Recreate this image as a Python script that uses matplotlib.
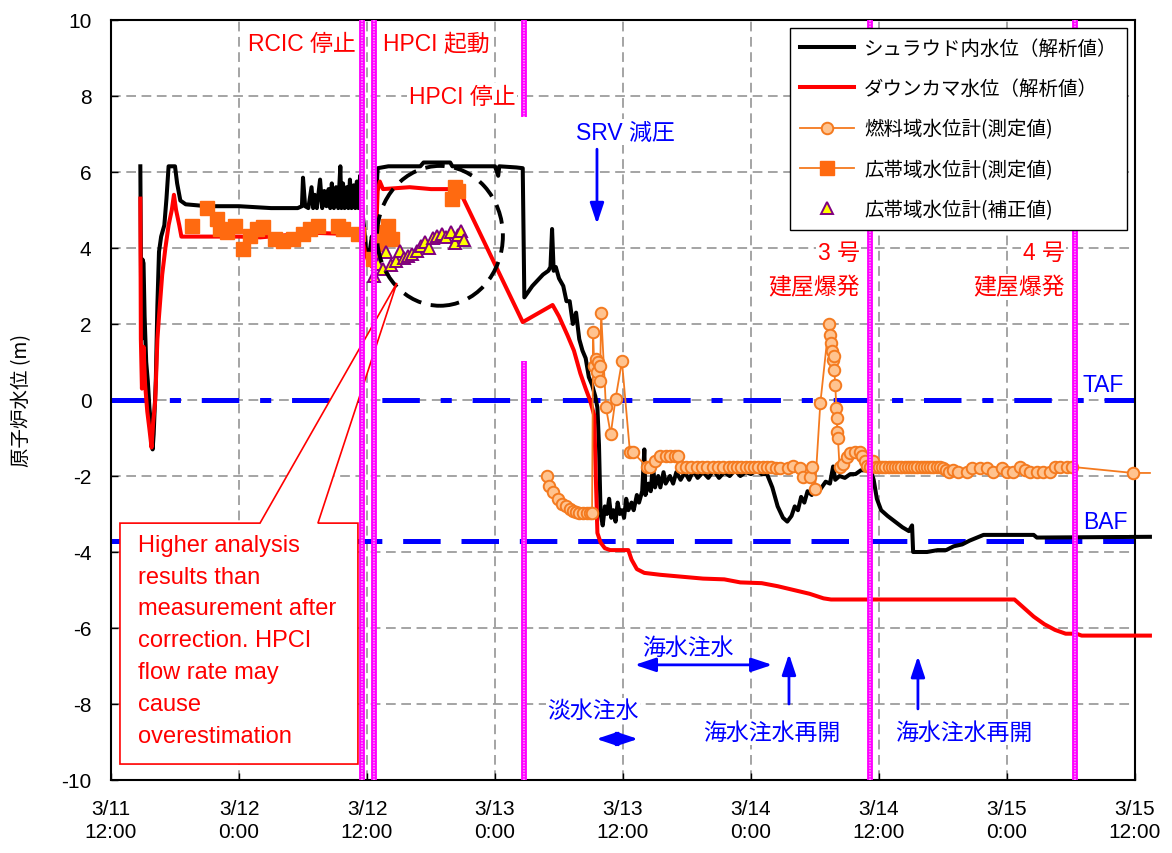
import matplotlib
matplotlib.use('Agg')
import matplotlib.pyplot as plt
from matplotlib.lines import Line2D
from matplotlib.patches import Ellipse, Polygon

plt.rcParams['font.family'] = ['Liberation Sans', 'Noto Sans CJK JP']
plt.rcParams['axes.unicode_minus'] = False
plt.rcParams['lines.scale_dashes'] = False

# time axis: hours since 3/11 12:00
tick_h = [0, 12, 24, 36, 48, 60, 72, 84, 96]
tick_labels = ['3/11\n12:00', '3/12\n0:00', '3/12\n12:00', '3/13\n0:00', '3/13\n12:00',
               '3/14\n0:00', '3/14\n12:00', '3/15\n0:00', '3/15\n12:00']

# shroud water level (analysis)
shroud = [(2.75, 6.15), (2.8, 4.0), (2.85, 1.6), (2.95, 3.7), (3.05, 3.6), (3.15, 2.2),
          (3.3, 1.0), (3.45, 0.5), (3.6, -0.2), (3.8, -0.8), (3.9, -1.3), (4.0, -0.9),
          (4.2, 0.5), (4.35, 2.5), (4.5, 3.9), (4.7, 4.3), (5.0, 4.6), (5.2, 5.3), (5.4, 6.15),
          (6.0, 6.15), (6.2, 5.7), (6.5, 5.25), (7.0, 5.15), (9.0, 5.1), (12.0, 5.1),
          (15.0, 5.05), (17.5, 5.05), (17.9, 5.1), (18.0, 5.85), (18.2, 5.1), (18.5, 5.05),
          (18.8, 5.6), (18.95, 5.05), (19.1, 5.4), (19.3, 5.05), (19.6, 5.8), (19.8, 5.05),
          (20.0, 5.5), (20.2, 5.1), (20.4, 5.55), (20.55, 5.05), (20.7, 5.7), (20.9, 5.05),
          (21.1, 5.6), (21.3, 5.05), (21.5, 6.15), (21.6, 5.05), (21.75, 5.7), (21.9, 5.05),
          (22.1, 5.6), (22.25, 5.05), (22.4, 5.8), (22.55, 5.05), (22.75, 5.65), (22.9, 5.05),
          (23.05, 5.75), (23.2, 5.05), (23.35, 5.9), (23.5, 5.15), (23.7, 4.6), (23.9, 4.0),
          (24.2, 3.8), (24.45, 4.3), (24.6, 3.9), (24.8, 5.0), (25.0, 6.1), (26.0, 6.15),
          (29.0, 6.15), (29.3, 6.25), (31.8, 6.25), (32.0, 6.15), (36.0, 6.15), (36.3, 5.9),
          (36.4, 6.15), (38.0, 6.12), (38.6, 6.1), (38.75, 2.7), (39.5, 3.0), (40.5, 3.3),
          (41.0, 3.4), (41.2, 3.5), (41.35, 4.5), (41.5, 3.4), (41.7, 3.5), (42.0, 3.2),
          (42.4, 3.0), (42.7, 2.6), (43.0, 2.6), (43.3, 2.0), (43.6, 2.3), (43.9, 1.6),
          (44.2, 1.3), (44.5, 1.1), (44.8, 0.6), (45.1, 0.4), (45.4, 0.1), (45.6, -0.2),
          (45.75, -1.2), (45.9, -3.0), (46.1, -3.3), (46.3, -2.8), (46.5, -3.0), (46.7, -2.6),
          (46.9, -3.1), (47.1, -2.9), (47.3, -3.2), (47.5, -2.7), (47.7, -3.0), (47.9, -2.9),
          (48.1, -3.1), (48.3, -2.6), (48.5, -2.9), (48.8, -2.7), (49.0, -2.9), (49.3, -2.5),
          (49.5, -2.7), (49.8, -2.4), (50.0, -1.3), (50.1, -2.5), (50.4, -2.2), (50.6, -2.4),
          (50.8, -1.7), (51.0, -2.3), (51.3, -2.0), (51.5, -2.3), (51.8, -1.9), (52.0, -2.2),
          (52.4, -2.0), (52.7, -2.2), (53.0, -1.9), (53.4, -2.1), (53.8, -1.9), (54.2, -2.1),
          (54.6, -1.85), (55.0, -2.05), (55.5, -1.9), (56.0, -2.05), (56.5, -1.85),
          (57.0, -2.05), (57.5, -1.9), (58.0, -2.0), (58.5, -1.85), (59.0, -2.0), (59.5, -1.9),
          (60.0, -1.95), (60.5, -1.85), (61.0, -1.95), (61.5, -1.95), (62.0, -2.3),
          (62.5, -2.8), (63.0, -3.1), (63.4, -3.2), (63.8, -3.05), (64.1, -2.8), (64.4, -2.9),
          (64.7, -2.55), (65.0, -2.7), (65.3, -2.4), (65.7, -2.5), (66.0, -2.3), (66.5, -2.35),
          (67.0, -2.15), (67.4, -2.2), (67.7, -1.75), (67.9, -2.1), (68.3, -2.0), (68.8, -2.05),
          (69.3, -1.95), (69.8, -1.95), (70.3, -1.85), (70.8, -1.85), (71.2, -1.8), (71.5, -2.1),
          (71.8, -2.6), (72.2, -2.9), (72.8, -3.05), (73.5, -3.2), (74.2, -3.35), (74.8, -3.45),
          (75.1, -3.3), (75.2, -4.0), (76.5, -4.0), (77.5, -3.95), (78.3, -3.95), (79.0, -3.85),
          (79.8, -3.8), (80.5, -3.7), (81.2, -3.62), (81.8, -3.55), (86.5, -3.55),
          (86.8, -3.62), (97.4, -3.6)]

# downcomer water level (analysis)
downcomer = [(2.75, 5.3), (2.8, 1.6), (2.9, 0.3), (3.05, 1.4), (3.2, 0.4), (3.4, -0.3),
             (3.6, -0.76), (3.8, -1.25), (3.95, -0.6), (4.15, 0.0), (4.35, 1.6), (4.5, 2.2),
             (4.8, 3.3), (5.1, 4.0), (5.4, 4.6), (5.7, 5.0), (5.9, 5.4), (6.1, 5.0), (6.4, 4.6),
             (6.6, 4.3), (8.0, 4.3), (12.0, 4.3), (14.0, 4.28), (17.0, 4.35), (19.0, 4.4),
             (21.0, 4.38), (23.5, 4.37), (23.8, 3.9), (24.2, 3.6), (24.5, 3.5), (24.8, 4.0),
             (25.0, 5.5), (25.2, 5.75), (25.5, 5.55), (28.0, 5.6), (30.0, 5.55), (32.6, 5.55),
             (38.6, 2.05), (41.4, 2.5), (42.0, 2.2), (42.8, 1.7), (43.4, 1.3), (44.0, 0.7),
             (44.5, 0.3), (44.9, 0.0), (45.3, -0.4), (45.45, -2.0), (45.6, -3.5), (45.9, -3.75),
             (46.3, -3.9), (46.8, -3.95), (48.5, -3.95), (48.8, -4.2), (49.3, -4.45),
             (50.0, -4.55), (51.5, -4.6), (53.5, -4.65), (55.5, -4.7), (57.5, -4.72),
             (59.0, -4.8), (61.0, -4.82), (62.5, -4.9), (64.0, -5.0), (65.5, -5.1),
             (66.8, -5.22), (67.5, -5.25), (84.7, -5.25), (85.5, -5.45), (86.5, -5.7),
             (87.5, -5.9), (88.5, -6.05), (89.5, -6.15), (90.5, -6.15), (91.0, -6.2), (97.4, -6.2)]

# fuel range level gauge (measured)
fuel = [(40.9, -2.0), (41.1, -2.27), (41.4, -2.43), (41.9, -2.6), (42.3, -2.73), (42.65, -2.8),
        (43.0, -2.87), (43.3, -2.92), (43.6, -2.95), (43.9, -2.97), (44.25, -2.97),
        (44.6, -2.97), (44.9, -2.97), (45.1, -2.97), (45.2, 1.78), (45.3, 0.9), (45.45, 1.08),
        (45.6, 0.73), (45.7, 1.0), (45.8, 0.9), (45.85, 0.5), (45.95, 2.3), (46.4, -0.19),
        (46.85, -0.9), (47.3, 0.03), (47.9, 1.02), (48.65, -1.37), (48.9, -1.37),
        (50.25, -1.76), (50.5, -1.76), (51.0, -1.6), (51.5, -1.47), (52.0, -1.47),
        (52.4, -1.47), (52.9, -1.47), (53.2, -1.47), (53.4, -1.76), (53.9, -1.76),
        (54.4, -1.76), (54.9, -1.76), (55.4, -1.76), (55.9, -1.76), (56.4, -1.76),
        (56.9, -1.76), (57.4, -1.76), (57.9, -1.76), (58.3, -1.76), (58.7, -1.76),
        (59.1, -1.76), (59.5, -1.76), (59.9, -1.76), (60.3, -1.76), (60.7, -1.76),
        (61.1, -1.76), (61.5, -1.76), (61.9, -1.76), (62.3, -1.8), (62.7, -1.8), (63.5, -1.8),
        (63.9, -1.73), (64.6, -1.8), (64.9, -2.03), (65.5, -2.03), (65.7, -1.76), (66.0, -2.34),
        (66.5, -0.08), (67.3, 2.0), (67.4, 1.7), (67.5, 1.5), (67.6, 1.3), (67.65, 1.05),
        (67.75, 1.15), (67.8, 0.8), (67.9, 0.4), (68.0, -0.2), (68.05, -0.47), (68.1, -0.84),
        (68.15, -1.0), (68.3, -1.76), (68.6, -1.68), (69.0, -1.5), (69.3, -1.4), (69.75, -1.37),
        (70.2, -1.37), (70.4, -1.47), (70.7, -1.6), (70.9, -1.73), (71.15, -1.76), (71.4, -1.6),
        (71.7, -1.76), (72.0, -1.76), (72.3, -1.76), (72.6, -1.76), (72.9, -1.76), (73.2, -1.76),
        (73.5, -1.76), (73.8, -1.76), (74.1, -1.76), (74.4, -1.76), (74.7, -1.76), (75.0, -1.76),
        (75.3, -1.76), (75.6, -1.76), (75.9, -1.76), (76.2, -1.76), (76.5, -1.76), (76.8, -1.76),
        (77.1, -1.76), (77.4, -1.76), (77.7, -1.76), (78.0, -1.8), (78.3, -1.85), (78.6, -1.9),
        (78.9, -1.85), (79.4, -1.9), (80.25, -1.9), (80.7, -1.8), (81.5, -1.8), (82.1, -1.8),
        (82.7, -1.9), (83.5, -1.8), (84.0, -1.9), (84.6, -1.9), (85.2, -1.76), (85.7, -1.85),
        (86.2, -1.9), (86.8, -1.9), (87.4, -1.9), (88.0, -1.9), (88.5, -1.76), (89.0, -1.76),
        (89.6, -1.76), (90.1, -1.76), (95.8, -1.92), (97.4, -1.92)]

# wide range level gauge (measured)
wide_h = [7.6, 9.0, 9.94, 10.2, 10.9, 11.6, 12.4, 13.0, 13.7, 14.25, 15.4, 16.1, 17.1, 18.0,
          18.65, 19.4, 21.3, 21.75, 23.15, 24.55, 25.0, 25.5, 26.0, 26.3, 32.0, 32.25, 32.5]
wide_lv = [4.58, 5.05, 4.76, 4.5, 4.42, 4.58, 3.97, 4.32, 4.5, 4.55, 4.24, 4.18, 4.24, 4.37,
           4.5, 4.58, 4.58, 4.5, 4.37, 3.7, 4.1, 4.42, 4.58, 4.24, 5.29, 5.6, 5.5]

# wide range level gauge (corrected)
corr_h = [24.65, 25.0, 25.5, 25.8, 26.25, 26.7, 27.1, 27.5, 27.85, 28.2, 28.7, 29.1, 29.4,
          29.8, 30.2, 30.6, 31.0, 31.4, 31.9, 32.25, 32.5, 32.8, 33.1]
corr_lv = [3.27, 3.58, 3.45, 3.89, 3.55, 3.66, 3.92, 3.75, 3.8, 3.84, 3.92, 4.05, 4.15,
           4.0, 4.26, 4.32, 4.37, 4.3, 4.42, 4.12, 4.35, 4.45, 4.2]

taf_level = 0.0
baf_level = -3.7
event_h = [23.5, 24.65, 38.75, 71.15, 90.4]

labels = ['シュラウド内水位（解析値）', 'ダウンカマ水位（解析値）', '燃料域水位計(測定値)',
          '広帯域水位計(測定値)', '広帯域水位計(補正値)']

orange = '#f47a1f'
blue = '#0000ff'

fig = plt.figure(figsize=(11.72, 8.54), dpi=100)
ax = fig.add_axes([111 / 1172, 73 / 854, 1024 / 1172, 760 / 854])

ax.set_xlim(0, 96)
ax.set_ylim(-10, 10)
ax.set_xticks(tick_h)
ax.set_xticklabels(tick_labels, linespacing=1.25)
ax.set_yticks(range(-10, 11, 2))
ax.tick_params(direction='in', length=5, width=1, labelsize=15, pad=14)
ax.grid(True, color='#8c8c8c', linestyle=(0, (7, 4)), linewidth=1.1)
ax.set_axisbelow(True)
for s in ax.spines.values():
    s.set_linewidth(1.5)

ax.set_ylabel('原子炉水位 (m)', fontsize=14, family=['Noto Sans CJK JP'])
ax.yaxis.set_label_coords(-0.077, 0.5)

# TAF / BAF
ax.axhline(taf_level, color=blue, lw=3.6, ls=(0, (27, 15, 8, 15)), dash_capstyle='butt', zorder=2)
ax.axhline(baf_level, color=blue, lw=3.6, ls=(0, (27, 15)), dash_capstyle='butt', zorder=2)

# analysis lines
sh, sv = zip(*shroud)
ax.plot(sh, sv, color='black', lw=2.9, zorder=3, clip_on=False)
dh, dv = zip(*downcomer)
ax.plot(dh, dv, color='#ff0000', lw=2.9, zorder=3, clip_on=False)

# measured
fh, fv = zip(*fuel)
ax.plot(fh, fv, color=orange, lw=1.3, marker='o', ms=8.3, mfc='#ffc38f', mec=orange,
        mew=1.4, markevery=list(range(len(fh) - 1)), zorder=4, clip_on=False)
ax.plot(wide_h, wide_lv, ls='none', marker='s', ms=9.5, color='#ff6a10', zorder=4)
ax.plot(corr_h, corr_lv, ls='none', marker='^', ms=8.5, mfc='#ffff00', mec='#800080',
        mew=1.4, zorder=4)

# dashed circle
ax.add_patch(Ellipse((30.84, 4.32), 11.8, 3.68, fill=False, ec='black', lw=2.8,
                     ls=(0, (14, 7)), zorder=5))

# callout box
callout = Polygon([(0.84, -3.24), (13.97, -3.24), (26.8, 3.08), (19.4, -3.24),
                   (23.15, -3.24), (23.15, -9.58), (0.84, -9.58)], closed=True,
                  fc='white', ec='#ff0000', lw=1.2, zorder=6)
ax.add_patch(callout)
ax.text(2.5, -3.52, 'Higher analysis\nresults than\nmeasurement after\ncorrection. HPCI\n'
        'flow rate may\ncause\noverestimation', color='#ff0000', fontsize=17,
        va='top', ha='left', linespacing=1.58, zorder=7)

# event lines
for i, h in enumerate(event_h):
    if i == 2:
        segs = [(7.45, 10), (-10, 1.03)]
    else:
        segs = [(-10, 10)]
    for y0, y1 in segs:
        ax.plot([h, h], [y0, y1], color='#ff00ff', lw=4.2, solid_capstyle='butt', zorder=8)
        ax.plot([h, h], [y0, y1], color='#ffa0ff', lw=1.2, ls=(0, (1, 1)), zorder=8.1)

box = dict(facecolor='white', edgecolor='none', pad=1)
red_kw = dict(color='#ff0000', fontsize=16.5, va='center', bbox=box, zorder=9)
ax.text(22.9, 9.37, 'RCIC 停止', ha='right', **red_kw)
ax.text(25.5, 9.37, 'HPCI 起動', ha='left', **red_kw)
ax.text(37.9, 8.0, 'HPCI 停止', ha='right', **red_kw)
ax.text(70.2, 3.89, '3 号', ha='right', **red_kw)
ax.text(70.2, 2.97, '建屋爆発', ha='right', **red_kw)
ax.text(89.4, 3.89, '4 号', ha='right', **red_kw)
ax.text(89.4, 2.97, '建屋爆発', ha='right', **red_kw)

blue_kw = dict(color=blue, fontsize=16.5, va='center', bbox=box, zorder=9)
ax.text(48.2, 7.05, 'SRV 減圧', ha='center', **blue_kw)
ax.text(91.1, 0.42, 'TAF', ha='left', **blue_kw)
ax.text(91.1, -3.21, 'BAF', ha='left', **blue_kw)
ax.text(54.1, -6.5, '海水注水', ha='center', **blue_kw)
ax.text(45.2, -8.18, '淡水注水', ha='center', **blue_kw)
ax.text(61.9, -8.74, '海水注水再開', ha='center', **blue_kw)
ax.text(79.9, -8.74, '海水注水再開', ha='center', **blue_kw)

single = dict(arrowstyle='-|>,head_length=0.9,head_width=0.3', color=blue, lw=2,
              mutation_scale=14, shrinkA=0, shrinkB=0)
double = dict(arrowstyle='<|-|>,head_length=0.9,head_width=0.3', color=blue, lw=2,
              mutation_scale=14, shrinkA=0, shrinkB=0)
ax.annotate('', xy=(45.56, 4.63), xytext=(45.56, 6.6), arrowprops=single, zorder=9)
ax.annotate('', xy=(63.56, -6.68), xytext=(63.56, -8.0), arrowprops=single, zorder=9)
ax.annotate('', xy=(75.65, -6.74), xytext=(75.65, -8.13), arrowprops=single, zorder=9)
ax.annotate('', xy=(49.1, -6.97), xytext=(62.0, -6.97), arrowprops=double, zorder=9)
ax.annotate('', xy=(45.5, -8.92), xytext=(49.4, -8.92), arrowprops=double, zorder=9)

# legend
handles = [Line2D([], [], color='black', lw=2.9),
           Line2D([], [], color='#ff0000', lw=2.9),
           Line2D([], [], color=orange, lw=1.3, marker='o', ms=8.3, mfc='#ffc38f', mec=orange, mew=1.4),
           Line2D([], [], color=orange, lw=1.3, marker='s', ms=9.5, mfc='#ff6a10', mec='#ff6a10'),
           Line2D([], [], ls='none', marker='^', ms=8.5, mfc='#ffff00', mec='#800080', mew=1.4)]
leg = ax.legend(handles, labels, loc='upper right', fancybox=False, framealpha=1,
                edgecolor='black', prop={'family': ['Noto Sans CJK JP'], 'size': 14},
                handlelength=2.8, labelspacing=1.0, borderaxespad=0.4, handletextpad=0.5,
                borderpad=0.5)
leg.get_frame().set_linewidth(1.0)
leg.set_zorder(20)

fig.savefig('out.png', dpi=100)
